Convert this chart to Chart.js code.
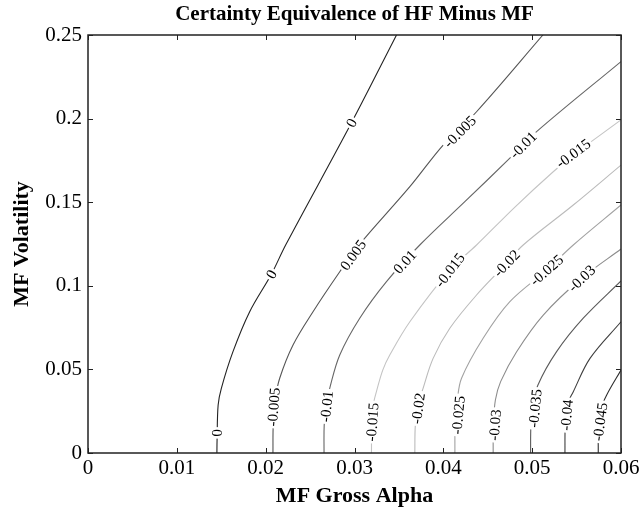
<!DOCTYPE html>
<html lang="en">
<head>
    <meta charset="UTF-8" />
    <title>Certainty Equivalence of HF Minus MF</title>
    <script src="https://cdn.jsdelivr.net/npm/chart.js"></script>
    <style>
        body {
            margin: 0;
            background: #fff;
        }
        #wrap {
            width: 644px;
            height: 513px;
        }
    </style>
</head>
<body>

<div id="wrap">
    <canvas id="ceChart" width="644" height="513"></canvas>
</div>

<script>
    const chartTitle = 'Certainty Equivalence of HF Minus MF';

    // axis ticks
    const xTicks = [0, 0.01, 0.02, 0.03, 0.04, 0.05, 0.06];
    const xTickLabels = ['0', '0.01', '0.02', '0.03', '0.04', '0.05', '0.06'];
    const yTicks = [0, 0.05, 0.1, 0.15, 0.2, 0.25];
    const yTickLabels = ['0', '0.05', '0.1', '0.15', '0.2', '0.25'];

    // contour levels
    const levels = [0, 0.005, 0.01, 0.015, 0.02, 0.025, 0.03, 0.035, 0.04, 0.045];

    // contour paths (MF gross alpha, MF volatility)
    const x_000 = [0.01451, 0.01453, 0.01465, 0.01501, 0.01632, 0.01820, 0.02064, 0.02225, 0.02966, 0.03473];
    const y_000 = [0, 0.0078, 0.0287, 0.0387, 0.0606, 0.0845, 0.1069, 0.1244, 0.1975, 0.25];

    const x_005 = [0.02082, 0.02085, 0.02107, 0.02158, 0.02308, 0.02533, 0.02834, 0.03051, 0.03623, 0.03998, 0.04374, 0.05121];
    const y_005 = [0, 0.01675, 0.0317, 0.0447, 0.0646, 0.0845, 0.1084, 0.1244, 0.1593, 0.1842, 0.2041, 0.25];

    const x_010 = [0.02657, 0.02659, 0.02682, 0.02721, 0.02834, 0.03059, 0.0336, 0.03735, 0.04242, 0.04749, 0.0505, 0.06];
    const y_010 = [0, 0.01675, 0.0287, 0.0387, 0.0586, 0.0806, 0.1025, 0.1244, 0.1503, 0.1763, 0.1922, 0.2341];

    const x_015 = [0.03191, 0.03194, 0.03211, 0.03247, 0.03318, 0.03397, 0.03623, 0.04073, 0.04374, 0.04806, 0.05237, 0.05463, 0.06];
    const y_015 = [0, 0.01675, 0.0287, 0.0367, 0.0496, 0.0586, 0.0785, 0.1094, 0.1244, 0.1471, 0.1682, 0.1782, 0.1992];

    const x_020 = [0.03679, 0.03685, 0.03716, 0.03772, 0.03885, 0.04073, 0.04374, 0.04712, 0.04899, 0.05463, 0.06];
    const y_020 = [0, 0.01675, 0.0287, 0.0387, 0.0566, 0.0746, 0.0945, 0.1135, 0.1244, 0.1483, 0.1722];

    const x_025 = [0.0413, 0.04133, 0.04158, 0.04205, 0.04448, 0.04749, 0.05163, 0.05463, 0.06];
    const y_025 = [0, 0.01675, 0.0317, 0.0447, 0.0686, 0.0905, 0.1094, 0.1244, 0.1483];

    const x_030 = [0.04561, 0.04563, 0.04586, 0.04645, 0.04825, 0.05125, 0.05557, 0.06];
    const y_030 = [0, 0.01675, 0.0317, 0.0427, 0.0606, 0.0825, 0.1045, 0.122];

    const x_035 = [0.04982, 0.04986, 0.05008, 0.05065, 0.05275, 0.05575, 0.06];
    const y_035 = [0, 0.01675, 0.0287, 0.0407, 0.0606, 0.0806, 0.1029];

    const x_040 = [0.05369, 0.05372, 0.05392, 0.05463, 0.05651, 0.06];
    const y_040 = [0, 0.01675, 0.0287, 0.0367, 0.0566, 0.0785];

    const x_045 = [0.05744, 0.05746, 0.05769, 0.05839, 0.06];
    const y_045 = [0, 0.01675, 0.0257, 0.0347, 0.0496];

    const contourX = [x_000, x_005, x_010, x_015, x_020, x_025, x_030, x_035, x_040, x_045];
    const contourY = [y_000, y_005, y_010, y_015, y_020, y_025, y_030, y_035, y_040, y_045];

    // inline contour labels: text, which contour, where
    const labelText = ['0', '0', '0',
        '-0.005', '0.005', '-0.005',
        '-0.01', '0.01', '-0.01',
        '-0.015', '-0.015', '-0.015',
        '-0.02', '-0.02',
        '-0.025', '-0.025',
        '-0.03', '-0.03',
        '-0.035', '-0.04', '-0.045'];
    const labelLine = [0, 0, 0, 1, 1, 1, 2, 2, 2, 3, 3, 3, 4, 4, 5, 5, 6, 6, 7, 8, 9];
    const labelX = [0.01451, 0.02064, 0.02966,
        0.02088, 0.02984, 0.04186,
        0.02684, 0.03566, 0.04899,
        0.032, 0.04073, 0.05463,
        0.03716, 0.04712,
        0.04167, 0.05163,
        0.0458, 0.05557,
        0.05031, 0.05388, 0.05763];
    const labelY = [0.012, 0.1069, 0.1975,
        0.0275, 0.1184, 0.1922,
        0.0279, 0.1144, 0.1842,
        0.0185, 0.1094, 0.1792,
        0.0267, 0.1135,
        0.0227, 0.1094,
        0.01675, 0.1045,
        0.0267, 0.0227, 0.0187];

    const lineColors = ['#222222', '#555555', '#666666', '#c4c4c4', '#bbbbbb',
        '#a2a2a2', '#8c8c8c', '#5a5a5a', '#3e3e3e', '#2e2e2e'];

    const serif = "'Liberation Serif', 'Times New Roman', serif";

    const datasets = levels.map((lev, i) => ({
        label: String(lev),
        data: contourX[i].map((x, j) => ({ x: x, y: contourY[i][j] })),
        showLine: true,
        borderColor: lineColors[i],
        borderWidth: 1.1,
        pointRadius: 0,
        tension: 0.35,
        fill: false
    }));

    // title over the plot, inner tick marks, box, and the contour labels
    const contourDecor = {
        id: 'contourDecor',
        afterDatasetsDraw(chart) {
            const ctx = chart.ctx;
            const xs = chart.scales.x;
            const ys = chart.scales.y;
            const a = chart.chartArea;

            ctx.save();
            ctx.font = '15px ' + serif;
            ctx.textAlign = 'center';
            ctx.textBaseline = 'middle';
            labelText.forEach((txt, k) => {
                const px = xs.getPixelForValue(labelX[k]);
                const py = ys.getPixelForValue(labelY[k]);
                const li = labelLine[k];
                const pts = contourX[li].map((x, j) => [xs.getPixelForValue(x), ys.getPixelForValue(contourY[li][j])]);
                let best = 1e9, dx = 0, dy = -1;
                for (let j = 0; j < pts.length - 1; j++) {
                    const [x1, y1] = pts[j], [x2, y2] = pts[j + 1];
                    const sx = x2 - x1, sy = y2 - y1;
                    const len2 = sx * sx + sy * sy || 1;
                    let t = ((px - x1) * sx + (py - y1) * sy) / len2;
                    t = Math.max(0, Math.min(1, t));
                    const qx = x1 + t * sx - px, qy = y1 + t * sy - py;
                    const d = qx * qx + qy * qy;
                    if (d < best) { best = d; dx = sx; dy = sy; }
                }
                if (dy > 0) { dx = -dx; dy = -dy; }
                const ang = Math.atan2(dy, dx);
                const w = ctx.measureText(txt).width;
                ctx.save();
                ctx.translate(px, py);
                ctx.rotate(ang);
                ctx.fillStyle = '#fff';
                ctx.fillRect(-w / 2 - 2, -6, w + 4, 12);
                ctx.fillStyle = '#000';
                ctx.fillText(txt, 0, 1);
                ctx.restore();
            });

            ctx.strokeStyle = '#222';
            ctx.lineWidth = 1;
            ctx.beginPath();
            xTicks.forEach(v => {
                const p = Math.round(xs.getPixelForValue(v)) + 0.5;
                ctx.moveTo(p, a.bottom); ctx.lineTo(p, a.bottom - 5);
                ctx.moveTo(p, a.top); ctx.lineTo(p, a.top + 5);
            });
            yTicks.forEach(v => {
                const p = Math.round(ys.getPixelForValue(v)) + 0.5;
                ctx.moveTo(a.left, p); ctx.lineTo(a.left + 5, p);
                ctx.moveTo(a.right, p); ctx.lineTo(a.right - 5, p);
            });
            ctx.stroke();

            ctx.lineWidth = 1.5;
            ctx.strokeRect(a.left, a.top, a.right - a.left, a.bottom - a.top);

            ctx.fillStyle = '#000';
            ctx.font = 'bold 21px ' + serif;
            ctx.textAlign = 'center';
            ctx.textBaseline = 'middle';
            ctx.fillText(chartTitle, (a.left + a.right) / 2, 15);
            ctx.restore();
        }
    };

    new Chart(document.getElementById('ceChart'), {
        type: 'scatter',
        data: { datasets: datasets },
        options: {
            responsive: false,
            animation: false,
            devicePixelRatio: 1,
            layout: { padding: { left: 0, right: 23, top: 35, bottom: 0 } },
            plugins: {
                legend: { display: false },
                tooltip: { enabled: false },
                title: { display: false }
            },
            scales: {
                x: {
                    type: 'linear',
                    min: 0,
                    max: 0.06,
                    afterBuildTicks: s => { s.ticks = xTicks.map(v => ({ value: v })); },
                    afterFit: s => { s.height = 60; },
                    grid: { drawOnChartArea: false, drawTicks: false },
                    border: { display: false },
                    ticks: {
                        padding: 3,
                        color: '#000',
                        font: { family: serif, size: 21 },
                        maxRotation: 0,
                        callback: (v, i) => xTickLabels[i]
                    },
                    title: {
                        display: true,
                        text: 'MF Gross Alpha',
                        color: '#000',
                        font: { family: serif, size: 22, weight: 'bold' },
                        padding: { top: 0, bottom: 3 }
                    }
                },
                y: {
                    type: 'linear',
                    min: 0,
                    max: 0.25,
                    afterBuildTicks: s => { s.ticks = yTicks.map(v => ({ value: v })); },
                    afterFit: s => { s.width = 88; },
                    grid: { drawOnChartArea: false, drawTicks: false },
                    border: { display: false },
                    ticks: {
                        padding: 6,
                        color: '#000',
                        font: { family: serif, size: 21 },
                        callback: (v, i) => yTickLabels[i]
                    },
                    title: {
                        display: true,
                        text: 'MF Volatility',
                        color: '#000',
                        font: { family: serif, size: 22, weight: 'bold' },
                        padding: { top: 9, bottom: 0 }
                    }
                }
            }
        },
        plugins: [contourDecor]
    });
</script>

</body>
</html>
